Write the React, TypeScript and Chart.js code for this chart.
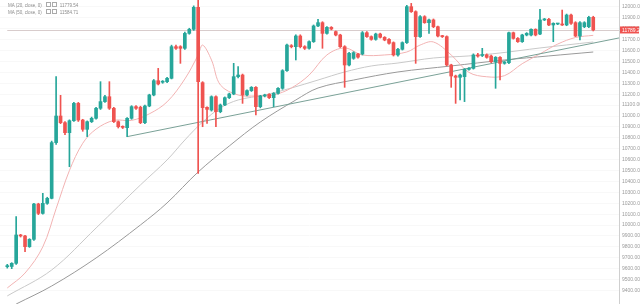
import React, { useEffect, useRef } from 'react';
import { Chart, registerables } from 'chart.js';
Chart.register(...registerables);

const opens = [9618,9620,9649,9909,9900,9802,9869,10193,10107,10199,10245,10756,11000,10939,10847,10957,11116,10963,10878,10948,10979,11071,11132,11177,11071,10948,10905,10893,10979,11086,11080,10939,11092,11193,11324,11310,11315,11346,11636,11636,11621,11758,11795,11997,11306,11080,11055,11177,11040,11101,11168,11202,11361,11376,11193,11233,11263,11086,11184,11199,11168,11208,11254,11416,11645,11636,11734,11636,11621,11682,11826,11856,11758,11813,11774,11743,11636,11468,11529,11569,11569,11764,11728,11703,11752,11722,11703,11673,11560,11612,11673,12003,11957,11728,11911,11856,11881,11819,11734,11728,11468,11367,11355,11361,11428,11437,11560,11555,11560,11550,11498,11538,11483,11489,11764,11712,11682,11743,11743,11795,11752,11881,11887,11835,11844,11844,11835,11926,11856,11734,11819,11819,11905];
const highs = [9640,9655,10077,9915,9905,9875,10200,10200,10291,10255,10770,11361,11190,10950,10965,11125,11125,10970,10955,10990,11080,11315,11190,11315,11080,10955,10910,10985,11095,11095,11090,11100,11200,11335,11437,11325,11355,11650,11650,11645,11770,11805,12010,12064,11315,11085,11185,11185,11110,11175,11210,11483,11453,11385,11240,11270,11270,11190,11200,11205,11215,11260,11425,11660,11655,11745,11745,11645,11690,11835,11887,11865,11820,11820,11780,11750,11645,11585,11590,11575,11775,11775,11735,11760,11760,11728,11710,11680,11620,11680,12015,12033,11965,11920,11920,11890,11890,11825,11740,11735,11475,11375,11385,11435,11445,11570,11575,11621,11570,11560,11545,11545,11500,11770,11770,11720,11750,11765,11800,11800,11978,11895,11895,11855,11850,11972,11935,11935,11865,11865,11865,11915,11915];
const lows = [9605,9600,9640,9890,9756,9795,9860,10095,10100,10190,10240,10740,10930,10830,10535,10950,10950,10860,10811,10940,10970,11060,11125,11060,10940,10890,10885,10811,10970,11060,10930,10930,11085,11185,11285,11300,11305,11340,11610,11483,11610,11750,11785,10474,10902,10933,11045,10902,11030,11095,11160,11195,11350,11116,11185,11225,11009,11075,11175,11160,11086,11200,11245,11410,11625,11514,11625,11610,11612,11675,11820,11621,11750,11790,11735,11628,11263,11460,11520,11530,11560,11720,11695,11695,11715,11690,11660,11550,11550,11605,11665,11950,11483,11720,11850,11758,11810,11725,11720,11460,11263,11116,11147,11132,11420,11430,11540,11545,11530,11490,11254,11330,11475,11480,11705,11675,11675,11735,11735,11735,11745,11875,11828,11682,11838,11830,11828,11840,11728,11697,11810,11810,11780];
const closes = [9628,9649,9909,9900,9802,9869,10193,10107,10199,10245,10756,11000,10939,10847,10957,11116,10963,10878,10948,10979,11071,11132,11177,11071,10948,10902,10896,10979,11086,11071,10939,11092,11193,11324,11294,11315,11346,11636,11621,11621,11758,11795,11997,11315,11077,11061,11177,11040,11101,11168,11202,11361,11376,11193,11233,11263,11086,11184,11193,11168,11208,11254,11416,11651,11636,11734,11636,11621,11682,11826,11856,11758,11813,11798,11743,11636,11468,11575,11581,11540,11764,11728,11703,11752,11722,11697,11667,11560,11612,11673,12003,11957,11728,11911,11856,11881,11819,11734,11728,11468,11367,11355,11376,11428,11437,11560,11550,11560,11538,11498,11538,11483,11495,11764,11712,11682,11743,11758,11795,11743,11881,11887,11835,11850,11846,11835,11926,11850,11734,11856,11856,11905,11789.26];

// moving-average curves (candle index, price)
const maFastIdx = [0,4,8,11,14,17,20,24,28,32,36,40,43,44,46,48,52,56,60,64,68,72,76,80,85,90,93,96,100,104,108,112,116,120,124,128,132];
const maFastVal = [9423,9560,9800,10150,10500,10750,10880,10960,10960,11020,11130,11340,11560,11651,11514,11285,11193,11184,11193,11257,11376,11560,11624,11560,11560,11587,11651,11679,11560,11400,11360,11370,11480,11570,11660,11720,11740];
const ma20Idx = [0,10,20,30,36,40,44,48,52,58,64,70,76,82,88,96,104,111,120,132];
const ma20Val = [9350,9588,9973,10368,10597,10780,10945,11074,11147,11193,11257,11330,11404,11459,11486,11532,11551,11578,11624,11679];
const ma50Idx = [2,10,20,30,36,43,50,57,65,70,78,88,100,112,122,132];
const ma50Val = [9276,9441,9698,10001,10203,10487,10725,10945,11147,11257,11330,11404,11459,11514,11551,11587];
const trendIdx = [27, 137.8];
const trendVal = [10811, 11716];

const legendRows = [
  { name: 'MA (20, close, 0)', value: '11779.54' },
  { name: 'MA (50, close, 0)', value: '11584.71' },
];

const UP = '#26a69a';
const DOWN = '#ef5350';

export default function App() {
  const ref = useRef<HTMLCanvasElement>(null);
  useEffect(() => {
    if (!ref.current) return;
    const colorOf = (i: number) => (closes[i] >= opens[i] ? UP : DOWN);
    const last = closes[closes.length - 1];
    const pricePlugin = {
      id: 'priceLine',
      beforeDatasetsDraw(chart: any) {
        const { ctx, chartArea, scales } = chart;
        const y = Math.round(scales.y.getPixelForValue(last)) + 0.5;
        const x0 = scales.x.getPixelForValue(0);
        ctx.save();
        ctx.strokeStyle = '#d8cccc';
        ctx.lineWidth = 1;
        ctx.beginPath();
        ctx.moveTo(x0, y);
        ctx.lineTo(chartArea.right, y);
        ctx.stroke();
        ctx.restore();
      },
      afterDraw(chart: any) {
        const { ctx, chartArea, scales } = chart;
        const y = scales.y.getPixelForValue(last);
        ctx.save();
        ctx.fillStyle = '#ef5350';
        ctx.fillRect(chartArea.right + 1, y - 3.5, 19, 7);
        ctx.fillStyle = '#ffffff';
        ctx.font = '5px "Liberation Sans"';
        ctx.textBaseline = 'middle';
        ctx.fillText(last.toFixed(2), chartArea.right + 3, y + 0.3);
        ctx.restore();
      },
    };
    const chart = new Chart(ref.current, {
      type: 'bar',
      data: {
        datasets: [
          {
            type: 'line',
            data: maFastIdx.map((x, i) => ({ x, y: maFastVal[i] })),
            borderColor: '#f2b3b3',
            borderWidth: 1,
            pointRadius: 0,
            tension: 0.35,
            order: 5,
          } as any,
          {
            type: 'line',
            data: ma20Idx.map((x, i) => ({ x, y: ma20Val[i] })),
            borderColor: '#c9c9c9',
            borderWidth: 1,
            pointRadius: 0,
            tension: 0.35,
            order: 5,
          },
          {
            type: 'line',
            data: ma50Idx.map((x, i) => ({ x, y: ma50Val[i] })),
            borderColor: '#9a9a9a',
            borderWidth: 1,
            pointRadius: 0,
            tension: 0.35,
            order: 5,
          },
          {
            type: 'line',
            data: trendIdx.map((x, i) => ({ x, y: trendVal[i] })),
            borderColor: '#7aa197',
            borderWidth: 1,
            pointRadius: 0,
            order: 4,
          },
          {
            type: 'bar',
            data: closes.map((c, i) => ({ x: i, y: [lows[i], highs[i]] })),
            backgroundColor: closes.map((_, i) => colorOf(i)),
            barThickness: 1,
            grouped: false,
            order: 2,
          } as any,
          {
            type: 'bar',
            data: closes.map((c, i) => ({ x: i, y: [opens[i], c] })),
            backgroundColor: closes.map((_, i) => colorOf(i)),
            barThickness: 3,
            minBarLength: 1,
            grouped: false,
            order: 1,
          } as any,
        ],
      },
      options: {
        animation: false,
        responsive: true,
        maintainAspectRatio: false,
        layout: { padding: 0 },
        plugins: { legend: { display: false }, tooltip: { enabled: false } },
        scales: {
          x: {
            type: 'linear',
            display: false,
            min: -1.64,
            max: 137.8,
            offset: false,
          },
          y: {
            position: 'right',
            min: 9276,
            max: 12064,
            ticks: {
              stepSize: 100,
              color: '#9a9a9a',
              padding: 3,
              font: { size: 5, family: '"Liberation Sans"' },
              callback: (v: any) => Number(v).toFixed(2),
            },
            grid: { color: '#f8f8f8', drawTicks: false },
            border: { display: true, color: '#cfcfcf' },
            afterBuildTicks: (s: any) => {
              s.ticks = s.ticks.filter((t: any) => Math.round(t.value) % 100 === 0);
            },
            afterFit: (s: any) => {
              s.width = 21;
              s.paddingTop = 0;
              s.paddingBottom = 0;
            },
          },
        },
      },
      plugins: [pricePlugin],
    } as any);
    return () => chart.destroy();
  }, []);

  return (
    <div style={{ position: 'absolute', left: 0, top: 0, width: 640, height: 304, background: '#fff' }}>
      <canvas ref={ref} />
      <div
        style={{
          position: 'absolute',
          left: 8,
          top: 2,
          fontFamily: '"Liberation Sans", sans-serif',
          fontSize: 4.5,
          lineHeight: '6px',
          color: '#8c8c8c',
          whiteSpace: 'nowrap',
        }}
      >
        {legendRows.map((r) => (
          <div key={r.name}>
            <span>{r.name}</span>
            <span style={{ marginLeft: 4, display: 'inline-block', width: 3, height: 3, border: '0.5px solid #aaa' }} />
            <span style={{ marginLeft: 1, display: 'inline-block', width: 3, height: 3, border: '0.5px solid #aaa' }} />
            <span style={{ marginLeft: 3 }}>{r.value}</span>
          </div>
        ))}
      </div>
    </div>
  );
}
